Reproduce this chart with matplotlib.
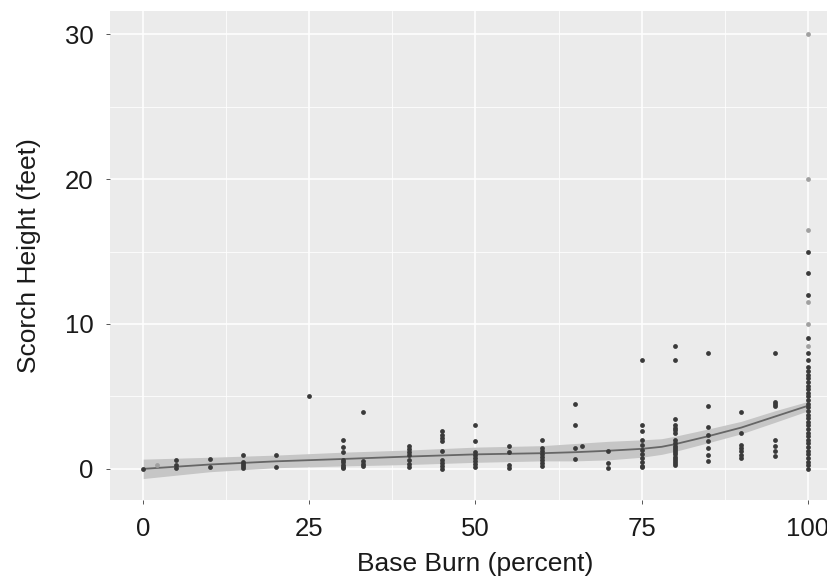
import matplotlib
matplotlib.use("Agg")
import matplotlib.pyplot as plt
from matplotlib.ticker import MultipleLocator

plt.rcParams["font.family"] = ["Liberation Sans", "DejaVu Sans"]

# base burn levels (percent) and the scorch heights (feet) observed at each
burn_levels = [0, 5, 10, 15, 20, 25, 30, 33, 40, 45, 50, 55, 60, 65, 66, 70, 75, 80, 85, 90, 95, 100]
heights_by_level = [
    [0.0],
    [0.6, 0.3, 0.05],
    [0.65, 0.1],
    [0.95, 0.44, 0.35, 0.2, 0.05],
    [0.95, 0.15],
    [5.0],
    [1.96, 1.48, 1.13, 0.62, 0.45, 0.3, 0.15, 0.05],
    [3.95, 0.55, 0.35, 0.17],
    [1.55, 1.35, 1.15, 0.95, 0.62, 0.35, 0.12],
    [2.6, 2.35, 2.1, 1.9, 1.25, 0.62, 0.4, 0.2, 0.02],
    [3.0, 1.94, 1.13, 0.95, 0.75, 0.55, 0.35, 0.1],
    [1.6, 1.13, 0.28, 0.05],
    [1.96, 1.43, 1.2, 1.0, 0.8, 0.6, 0.4, 0.2],
    [4.5, 3.0, 1.46, 0.67],
    [1.55],
    [1.2, 0.4, 0.05],
    [7.5, 3.0, 2.6, 2.0, 1.66, 1.32, 1.04, 0.74, 0.44, 0.23, 0.1],
    [8.45, 7.5, 3.46, 3.0, 2.82, 2.66, 2.47, 2.0, 1.8, 1.6, 1.45, 1.3, 1.15, 1.0,
     0.85, 0.7, 0.55, 0.4, 0.28],
    [8.0, 4.37, 2.89, 2.36, 1.9, 1.43, 0.97, 0.51],
    [3.95, 2.47, 1.66, 1.43, 1.2, 0.97, 0.74],
    [8.0, 4.6, 4.5, 4.37, 1.96, 1.55, 1.2, 0.9],
    [15.0, 13.5, 12.0, 9.0, 8.0, 7.5, 7.0, 6.75, 6.5, 6.25, 6.0, 5.75, 5.5, 5.25,
     5.0, 4.75, 4.5, 4.25, 4.0, 3.75, 3.5, 3.25, 3.0, 2.75, 2.5, 2.25, 2.0, 1.75,
     1.5, 1.25, 1.0, 0.75, 0.5, 0.25, 0.0],
]

# single (not overplotted) points, which show lighter
faint_x = [2, 100, 100, 100, 100, 100, 100]
faint_y = [0.28, 30.0, 20.0, 16.5, 11.5, 10.0, 8.5]

# loess fit and its confidence band
smooth_x = [0, 10, 20, 30, 40, 50, 60, 65, 70, 75, 78, 80, 85, 90, 95, 100]
smooth_fit = [0.0, 0.3, 0.52, 0.68, 0.85, 1.0, 1.08, 1.15, 1.25, 1.38, 1.52, 1.7, 2.25, 2.85, 3.6, 4.35]
smooth_lo = [-0.67, -0.2, 0.08, 0.2, 0.3, 0.45, 0.55, 0.55, 0.62, 0.8, 1.0, 1.2, 1.8, 2.42, 3.2, 4.0]
smooth_hi = [0.67, 0.8, 0.95, 1.15, 1.3, 1.5, 1.6, 1.75, 1.9, 2.0, 2.08, 2.25, 2.75, 3.28, 4.0, 4.65]

x_ticks = [0, 25, 50, 75, 100]
y_ticks = [0, 10, 20, 30]

fig = plt.figure(figsize=(8.28, 5.8), dpi=100)
# panel runs past the right edge, as in the cropped original
ax = fig.add_axes([110 / 828, 80 / 580, 731 / 828, 489 / 580])
ax.set_facecolor("#ebebeb")
for s in ax.spines.values():
    s.set_visible(False)

ax.xaxis.set_minor_locator(MultipleLocator(12.5))
ax.yaxis.set_minor_locator(MultipleLocator(5))
ax.grid(True, which="major", color="white", linewidth=1.1)
ax.grid(True, which="minor", color="white", linewidth=0.55)
ax.set_axisbelow(True)

ax.fill_between(smooth_x, smooth_lo, smooth_hi, color="#c6c6c6", linewidth=0, zorder=2)
ax.plot(smooth_x, smooth_fit, color="#666666", linewidth=1.3, zorder=3)

xs = [x for x, hs in zip(burn_levels, heights_by_level) for _ in hs]
ys = [h for hs in heights_by_level for h in hs]
ax.scatter(xs, ys, s=12, color="#3a3a3a", linewidths=0, zorder=4)
ax.scatter(faint_x, faint_y, s=12, color="#a0a0a0", linewidths=0, zorder=4)

ax.set_xlim(-5, 105)
ax.set_ylim(-2.15, 31.6)
ax.set_xticks(x_ticks)
ax.set_yticks(y_ticks)
ax.tick_params(which="major", length=3, width=0.7, color="#555555",
               labelsize=18.5, labelcolor="#1a1a1a", pad=9)
ax.tick_params(which="minor", length=0)

ax.set_xlabel("Base Burn (percent)", fontsize=19, color="#1a1a1a", labelpad=8)
ax.set_ylabel("Scorch Height (feet)", fontsize=19, color="#1a1a1a", labelpad=17)

fig.savefig("out.png", dpi=100)
